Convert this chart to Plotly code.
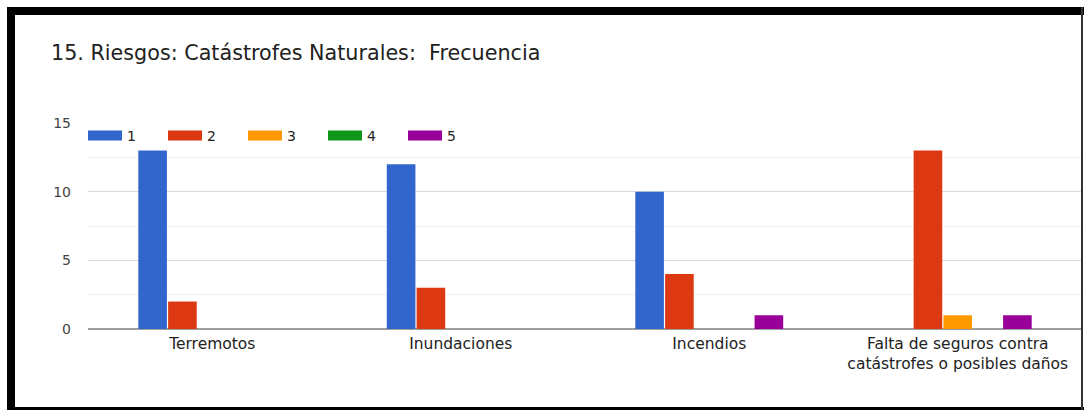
import plotly.graph_objects as go

categories = ["Terremotos", "Inundaciones", "Incendios",
              "Falta de seguros contra<br>catástrofes o posibles daños"]
series_names = ["1", "2", "3", "4", "5"]
s1 = [13, 12, 10, 0]
s2 = [2, 3, 4, 13]
s3 = [0, 0, 0, 1]
s4 = [0, 0, 0, 0]
s5 = [0, 0, 1, 1]
series_values = [s1, s2, s3, s4, s5]
colors = ["#3366cc", "#dc3912", "#ff9900", "#109618", "#990099"]
y_ticks = [0, 5, 10, 15]

W, H = 1084, 411
L, R, T, B = 88, 1082, 123, 329  # plot area in pixels

def px(x):
    return (x - L) / (R - L)

def py(y):
    return (B - y) / (B - T)

FONT = "DejaVu Sans, Liberation Sans, Arial, sans-serif"

fig = go.Figure()
for name, vals, col in zip(series_names, series_values, colors):
    fig.add_trace(go.Bar(x=categories, y=vals, name=name, marker_color=col,
                         marker_line_width=0, showlegend=False, hoverinfo="skip"))
# legend entries (wide swatches)
for name, col in zip(series_names, colors):
    fig.add_trace(go.Scatter(x=[None], y=[None], mode="lines", name=name,
                             line=dict(color=col, width=12), showlegend=True))

shapes = []
black = "#000000"
shapes.append(dict(type="rect", xref="paper", yref="paper", x0=px(7), x1=px(1084),
                   y0=py(7), y1=py(15), fillcolor=black, line_width=0, layer="above"))
shapes.append(dict(type="rect", xref="paper", yref="paper", x0=px(7), x1=px(15),
                   y0=py(7), y1=py(410), fillcolor=black, line_width=0, layer="above"))
shapes.append(dict(type="rect", xref="paper", yref="paper", x0=px(7), x1=px(1084),
                   y0=py(407), y1=py(410), fillcolor=black, line_width=0, layer="above"))
shapes.append(dict(type="rect", xref="paper", yref="paper", x0=px(1081), x1=px(1083),
                   y0=py(7), y1=py(410), fillcolor="#333333", line_width=0, layer="above"))

fig.update_layout(
    width=W, height=H,
    margin=dict(l=L, r=W - R, t=T, b=H - B, pad=0),
    paper_bgcolor="white", plot_bgcolor="white",
    font=dict(family=FONT, size=14, color="#222222"),
    title=dict(text="15. Riesgos: Catástrofes Naturales:  Frecuencia",
               x=51 / W, xref="container", xanchor="left",
               y=1 - 53 / H, yref="container", yanchor="middle",
               font=dict(family=FONT, size=20.7, color="#212121")),
    barmode="group", bargap=0.4, bargroupgap=0.04,
    showlegend=True,
    legend=dict(orientation="h", x=px(83), xanchor="left", y=py(136), yanchor="middle",
                font=dict(family=FONT, size=14, color="#222222"),
                bgcolor="rgba(0,0,0,0)", entrywidth=31, entrywidthmode="pixels",
                itemwidth=34,
                tracegroupgap=0, itemclick=False),
    xaxis=dict(showgrid=False, showline=False, ticks="", zeroline=False,
               tickfont=dict(family=FONT, size=15.5, color="#222222"),
               ticklabelstandoff=3),
    yaxis=dict(range=[0, 15], tickvals=y_ticks, showgrid=True, gridcolor="#d9d9d9",
               gridwidth=1, zeroline=True, zerolinecolor="#9e9e9e", zerolinewidth=2,
               showline=False, ticks="", ticklabelstandoff=16,
               tickfont=dict(family=FONT, size=14, color="#444444"),
               minor=dict(tickvals=[2.5, 7.5, 12.5], showgrid=True,
                          gridcolor="#f0f0f0", gridwidth=1)),
    shapes=shapes,
    hovermode=False,
)

fig.write_html("out.html", config={"displayModeBar": False},
               post_script="document.body.style.margin='0';document.body.style.padding='0';")
